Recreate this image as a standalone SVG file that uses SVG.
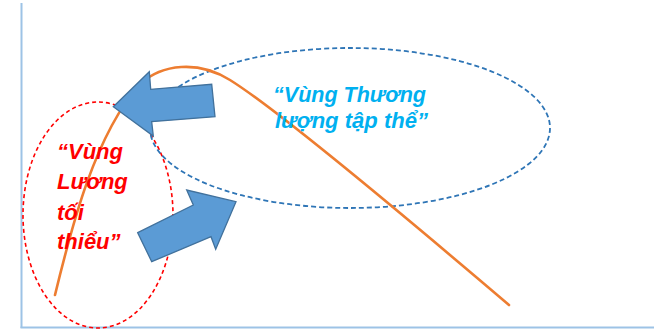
<svg xmlns="http://www.w3.org/2000/svg" width="654" height="330" viewBox="0 0 654 330">
<style>
.axis{stroke:#9DC3E6;stroke-width:2;fill:none}
.zone-red{fill:none;stroke:#FF0000;stroke-width:1.6;stroke-dasharray:4 3}
.zone-blue{fill:none;stroke:#2E75B6;stroke-width:1.8;stroke-dasharray:5 3}
.curve{fill:none;stroke:#ED7D31;stroke-width:2.6;stroke-linecap:round}
.arrow{fill:#5B9BD5;stroke:#41719C;stroke-width:1.3;stroke-linejoin:miter}
.lbl{font-family:"Liberation Sans",Arial,sans-serif;font-weight:bold;font-style:italic}
.red{fill:#FF0000;font-size:22px}
.blue{fill:#00B0F0;font-size:21.5px}
</style>
<rect width="654" height="330" fill="#FFFFFF"/>
<g id="axes">
<line class="axis" x1="21.5" y1="3" x2="21.5" y2="328"/>
<line class="axis" x1="20.5" y1="327.5" x2="654" y2="327.5"/>
</g>
<g id="zone-min">
<ellipse class="zone-red" cx="98" cy="215" rx="75" ry="113"/>
</g>
<g id="zone-collective">
<ellipse class="zone-blue" cx="350" cy="128" rx="200" ry="80"/>
</g>
<g id="curve">
<path class="curve" d="M55,295 C72,225 95,135 140,84 C162,64 198,60 230,80 C275,108 415,225 509,305"/>
</g>
<g id="labels">
<text class="lbl red"><tspan x="57" y="159">“Vùng</tspan><tspan x="57" y="189">Lương</tspan><tspan x="57" y="220">tối</tspan><tspan x="57" y="249">thiểu”</tspan></text>
<text class="lbl blue"><tspan x="273" y="102" textLength="153" lengthAdjust="spacingAndGlyphs">“Vùng Thương</tspan><tspan x="275" y="128" textLength="153" lengthAdjust="spacingAndGlyphs">lượng tập thể”</tspan></text>
</g>
<g id="connectors">
<polygon class="arrow" points="113.3,106.7 149.3,71.7 150.7,89.3 211.7,84.3 215,116.7 151.7,121.7 153.3,136"/>
<polygon class="arrow" points="137.7,232.7 193.3,205 186.7,190 236,201.7 215.7,249.3 211,236.7 151.7,261.7"/>
</g>
</svg>
